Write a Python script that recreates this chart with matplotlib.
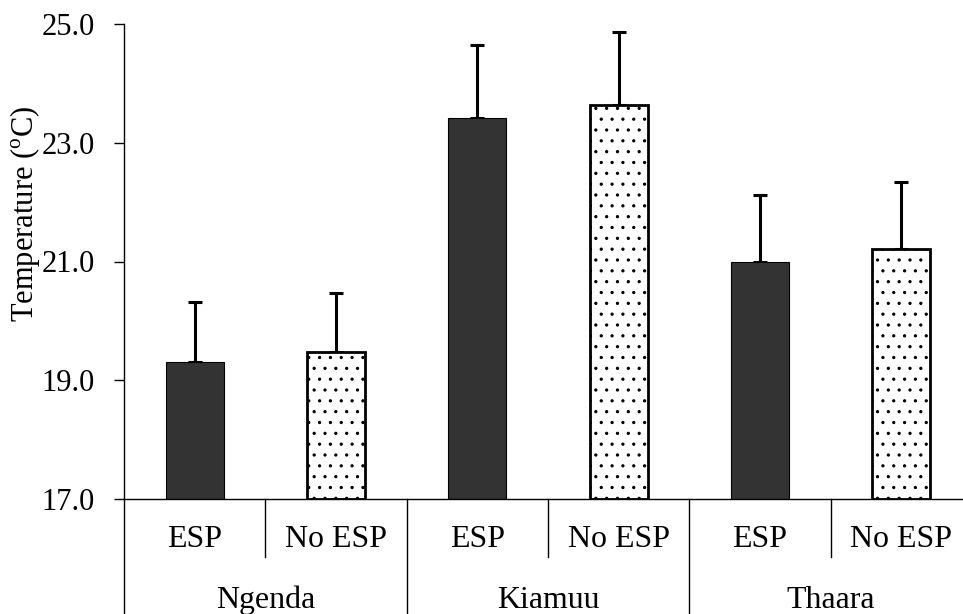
import matplotlib
matplotlib.use("Agg")
import matplotlib.pyplot as plt
import matplotlib.transforms as mtransforms
import numpy as np

DPI = 130  # hatch spacing scales with dpi, 130 gives the sparse dot grid of the original
k = 100 / DPI  # sizes below were tuned at 100 dpi

plt.rcParams['font.family'] = ['Liberation Serif', 'DejaVu Serif']
plt.rcParams['mathtext.fontset'] = 'custom'
plt.rcParams['mathtext.rm'] = 'Liberation Serif'
plt.rcParams['hatch.linewidth'] = 0.6
plt.rcParams['hatch.color'] = '#222222'

# data
sites = ['Ngenda', 'Kiamuu', 'Thaara']
treatments = ['ESP', 'No ESP']
temp_mean = [19.31, 19.47, 23.41, 23.63, 21.00, 21.21]
temp_err = [1.01, 1.00, 1.23, 1.23, 1.12, 1.13]
yticks = [17.0, 19.0, 21.0, 23.0, 25.0]

fig = plt.figure(figsize=(963 / DPI, 614 / DPI), dpi=DPI)
ax = fig.add_axes([124/963, 115/614, 848/963, 475/614])

x = np.arange(len(temp_mean))
colors = ['#333333' if i % 2 == 0 else 'white' for i in x]
hatches = ['' if i % 2 == 0 else '..' for i in x]
edge_w = [0.8 * k if i % 2 == 0 else 2.0 * k for i in x]

bars = ax.bar(x, [m - 17 for m in temp_mean], bottom=17, width=0.41,
              color=colors, edgecolor='black', linewidth=edge_w, zorder=2)
for b, h in zip(bars, hatches):
    b.set_hatch(h)

# only the upper half of each error bar
ax.errorbar(x, temp_mean, yerr=[np.zeros(len(temp_err)), temp_err], fmt='none',
            ecolor='black', elinewidth=2.2 * k, capsize=5 * k, capthick=2.2 * k, zorder=1)

ax.set_xlim(-0.5, 5.5)
ax.set_ylim(17, 25)
ax.set_yticks(yticks)
ax.set_yticklabels([f"{t:.1f}" for t in yticks], fontsize=22 * k)
ax.tick_params(axis='y', direction='out', length=7 * k, width=1 * k, pad=14 * k)
ax.set_xticks([])
ax.spines['top'].set_visible(False)
ax.spines['right'].set_visible(False)
ax.spines['left'].set_linewidth(1 * k)
ax.spines['bottom'].set_linewidth(1 * k)

ax.set_ylabel(r'Temperature ($^{\mathrm{o}}$C)', fontsize=22 * k)
ax.yaxis.set_label_coords(-0.097, 0.6)

# two-level category axis
trans = mtransforms.blended_transform_factory(ax.transData, ax.transAxes)
for i in x:
    ax.text(i, -0.086, treatments[i % 2], transform=trans, ha='center',
            va='center', fontsize=23 * k)
for g, name in enumerate(sites):
    ax.text(2 * g + 0.5, -0.213, name, transform=trans, ha='center',
            va='center', fontsize=23 * k)
for xs in [0.5, 2.5, 4.5]:
    ax.plot([xs, xs], [0, -0.122], transform=trans, color='black', lw=1 * k, clip_on=False)
for xs in [-0.5, 1.5, 3.5, 5.5]:
    ax.plot([xs, xs], [0, -0.26], transform=trans, color='black', lw=1 * k, clip_on=False)

fig.savefig('out.png', dpi=DPI)
